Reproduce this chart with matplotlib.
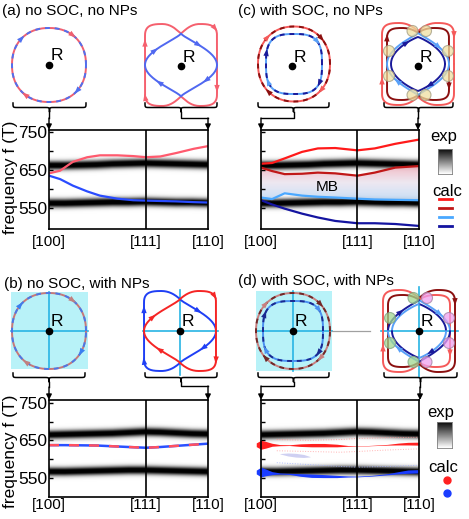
import numpy as np
import matplotlib.pyplot as plt
from matplotlib.patches import Polygon, Rectangle, Circle
from matplotlib.colors import LinearSegmentedColormap

plt.rcParams['font.family'] = ['Liberation Sans', 'DejaVu Sans']

W, H = 469, 519

# ---- values ----
dir_labels = ['[100]', '[111]', '[110]']
dir_pos = [0.0, 0.61, 1.0]

# experimental bands (centre of the dark stripes)
band_x = [0.0, 0.1, 0.2, 0.3, 0.4, 0.5, 0.6, 0.7, 0.8, 0.9, 1.0]
exp_hi_top = [662, 662, 663, 664, 666, 667, 668, 667, 666, 665, 664]
exp_lo_top = [563, 563, 564, 565, 566, 566, 567, 566, 565, 565, 564]
exp_hi_bot = [665, 666, 667, 668, 669, 671, 673, 672, 670, 668, 667]
exp_lo_bot = [566, 566, 567, 568, 569, 570, 570, 569, 568, 567, 566]

# (a) no SOC, no NPs
a_x = [0.0, 0.07, 0.15, 0.24, 0.32, 0.43, 0.53, 0.61, 0.70, 0.80, 0.91, 1.0]
a_red = [641, 648, 671, 683, 688, 688, 686, 683, 685, 694, 705, 712]
a_blue = [635, 626, 609, 594, 583, 575, 571, 570, 569, 568, 566, 565]

# (b) no SOC, with NPs
b_x = [0.0, 0.1, 0.2, 0.3, 0.4, 0.5, 0.61, 0.7, 0.8, 0.9, 1.0]
b_f = [637, 637, 636.5, 636, 634, 632, 630, 632, 635, 638, 641]

# (c) with SOC, no NPs
c_x = [0.0, 0.07, 0.15, 0.26, 0.36, 0.47, 0.61, 0.72, 0.85, 1.0]
c_red = [666, 668, 680, 697, 706, 707, 701, 706, 718, 729]
c_dred = [656, 647, 639, 640, 643, 641, 635, 643, 656, 660]
c_lblue = [578, 574, 589, 583, 580, 578, 575, 573, 572, 571]
c_dblue = [571, 560, 549, 536, 526, 517, 511, 511, 509, 504]

# (d) with SOC, with NPs (weighted bands: centre and half width)
d_x = [-0.03, 0.0, 0.03, 0.07, 0.12, 0.18, 0.25, 0.32, 0.40, 0.48, 0.55, 0.61, 0.70, 0.80, 0.87, 0.93, 1.0]
d_red = [638, 638, 638, 638, 637, 637, 637, 637, 637, 636, 635, 634, 636, 638, 640, 641, 641]
d_red_w = [5, 12, 9, 4, 1.5, 1, 3.5, 4.5, 4.5, 3.5, 1, 0.5, 0.5, 1, 2.5, 3.5, 4]
d_blue = [565, 565, 564, 562, 561, 560, 557, 555, 554, 553, 553, 553, 555, 559, 563, 566, 567]
d_blue_w = [5, 13, 9, 4, 1.5, 1.5, 3.5, 4.5, 4, 3, 1.5, 1, 1, 1.5, 3, 4.5, 4.5]
d_lav_x = [0.12, 0.17, 0.22, 0.27, 0.31]
d_lav = [614, 612, 610, 608, 606]
d_lav_w = [0.5, 4, 5, 4, 0.5]
d_faint_x = [0.1, 0.3, 0.5, 0.61, 0.8, 1.0]
d_faint_r1 = [652, 650, 652, 655, 657, 658]
d_faint_r2 = [622, 620, 618, 620, 624, 627]
d_faint_b = [590, 585, 580, 578, 580, 583]

fig = plt.figure(figsize=(W / 100, H / 100), dpi=100)


def px_axes(l, t, r, b):
    return fig.add_axes([l / W, 1 - b / H, (r - l) / W, (b - t) / H])


def exp_bands(ax, hi, lo, ylim):
    f = np.linspace(ylim[0], ylim[1], 300)[:, None]
    img = (np.exp(-((f - np.array(hi)[None, :]) / 11.0) ** 2) +
           np.exp(-((f - np.array(lo)[None, :]) / 11.0) ** 2))
    ax.imshow(img, extent=[-0.05, 1.05, ylim[0], ylim[1]], origin='lower',
              aspect='auto', cmap='gray_r', vmin=0, vmax=0.85,
              interpolation='bilinear', zorder=0)


def setup(ax, ylim, ylabels, xpad):
    ax.set_xlim(0, 1)
    ax.set_ylim(*ylim)
    ax.set_xticks(dir_pos)
    ax.set_xticklabels(dir_labels, fontsize=11)
    ax.tick_params(axis='x', length=0, pad=xpad)
    ax.set_yticks([550, 600, 650, 700, 750])
    if ylabels:
        ax.set_yticklabels(['550', '', '650', '', '750'])
    else:
        ax.set_yticklabels([])
    ax.tick_params(axis='y', direction='in', length=3, width=1, pad=1, labelsize=12.5)
    ax.axvline(0.61, color='k', lw=1.2, zorder=5)
    for s in ax.spines.values():
        s.set_linewidth(1.2)
        s.set_zorder(6)


ylim_top = (496, 754)
ylim_bot = (498, 758)

axA = px_axes(49, 130, 208, 229)
axC = px_axes(261, 130, 419, 229)
axB = px_axes(49, 400, 208, 497)
axD = px_axes(261, 400, 419, 497)

# (a)
exp_bands(axA, exp_hi_top, exp_lo_top, ylim_top)
axA.plot(a_x, a_red, color='#ff5a6e', lw=1.6)
axA.plot(a_x, a_blue, color='#2a4cff', lw=1.6)
setup(axA, ylim_top, True, 4)

# (c)
exp_bands(axC, exp_hi_top, exp_lo_top, ylim_top)
mb_cmap = LinearSegmentedColormap.from_list('mb', ['#c4dcf6', '#ece6f0', '#f2b4c0'])
grad = np.linspace(0, 1, 100)[:, None]
im = axC.imshow(grad, extent=[0, 1, min(c_lblue), max(c_dred)], origin='lower',
                aspect='auto', cmap=mb_cmap, zorder=1, alpha=0.9)
mb = axC.fill_between(c_x, c_lblue, c_dred, color='none', lw=0)
im.set_clip_path(mb.get_paths()[0], transform=axC.transData)
axC.plot(c_x, c_red, color='#ff1a1a', lw=1.6, zorder=3)
axC.plot(c_x, c_dred, color='#c01818', lw=1.6, zorder=3)
axC.plot(c_x, c_lblue, color='#4aa8ff', lw=1.6, zorder=3)
axC.plot(c_x, c_dblue, color='#1414a0', lw=1.6, zorder=3)
axC.text(0.42, 605, 'MB', fontsize=11, ha='center', va='center', zorder=4)
setup(axC, ylim_top, False, 4)

# (b)
exp_bands(axB, exp_hi_bot, exp_lo_bot, ylim_bot)
axB.plot(b_x, b_f, color='#2a50ff', lw=1.8)
axB.plot(b_x, b_f, color='#ff5060', lw=1.8, ls=(0, (4, 4)))
setup(axB, ylim_bot, True, 1)

# (d)
exp_bands(axD, exp_hi_bot, exp_lo_bot, ylim_bot)
for fy, fc in [(d_faint_r1, '#ff9090'), (d_faint_r2, '#ffa0a0'), (d_faint_b, '#a0b0ff')]:
    axD.plot(d_faint_x, fy, color=fc, lw=0.7, ls=':', alpha=0.8, zorder=2)
axD.fill_between(d_lav_x, np.array(d_lav) - d_lav_w, np.array(d_lav) + d_lav_w,
                 color='#cfd0f2', lw=0, zorder=2)
fr = axD.fill_between(d_x, np.array(d_red) - d_red_w, np.array(d_red) + d_red_w,
                      color='#ff2020', lw=0, zorder=3)
fb = axD.fill_between(d_x, np.array(d_blue) - d_blue_w, np.array(d_blue) + d_blue_w,
                      color='#1a3cff', lw=0, zorder=3)
fr.set_clip_on(False)
fb.set_clip_on(False)
setup(axD, ylim_bot, False, 1)

fig.text(11 / W, 1 - 177 / H, 'frequency f (T)', rotation=90, fontsize=12.5,
         ha='center', va='center')
fig.text(11 / W, 1 - 451 / H, 'frequency f (T)', rotation=90, fontsize=12.5,
         ha='center', va='center')

# ---- overlay for the orbit sketches ----
ov = fig.add_axes([0, 0, 1, 1])
ov.set_xlim(0, W)
ov.set_ylim(H, 0)
ov.axis('off')

M = 60


def squircle(a, b, n):
    t = np.linspace(0, 2 * np.pi, 4 * M, endpoint=False)
    c, s = np.cos(t), np.sin(t)
    return a * np.sign(c) * np.abs(c) ** (2 / n), b * np.sign(s) * np.abs(s) ** (2 / n)


def star(a, b, r):
    t = np.linspace(0, 2 * np.pi, 4 * M, endpoint=False)
    c, s = np.cos(t), np.sin(t)
    return a * np.sign(c) * np.abs(c) ** r, b * s


def bez(p0, p1, p2, p3, n=20):
    t = np.linspace(0, 1, n)[:, None]
    p0, p1, p2, p3 = map(np.array, (p0, p1, p2, p3))
    return (1 - t) ** 3 * p0 + 3 * (1 - t) ** 2 * t * p1 + 3 * (1 - t) * t ** 2 * p2 + t ** 3 * p3


def lobes(a, b, d):
    s1 = np.column_stack([np.full(20, a), np.linspace(0, 0.72 * b, 20)])
    s2 = bez((a, .72 * b), (a, .98 * b), (.78 * a, b), (.52 * a, b))
    s3 = bez((.52 * a, b), (.26 * a, b), (.1 * a, d + .08 * a), (0, d))
    q = np.vstack([s1, s2, s3])
    full = np.vstack([q, q[::-1] * [-1, 1], q * [-1, -1], q[::-1] * [1, -1]])
    return full[:, 0], full[:, 1]


def loop(x, y, cx, cy, color, lw=1.4, ls='-', z=3):
    X = np.append(cx + x, cx + x[0])
    Y = np.append(cy - y, cy - y[0])
    ov.plot(X, Y, color=color, lw=lw, ls=ls, zorder=z, solid_capstyle='round')


def part(x, y, cx, cy, i0, i1, color, lw=1.4, z=3):
    idx = np.arange(i0, i1 + 1) % len(x)
    ov.plot(cx + x[idx], cy - y[idx], color=color, lw=lw, zorder=z, solid_capstyle='round')


def arrow_on(x, y, cx, cy, ang, color, size=7.5, z=4):
    x = np.asarray(x)
    y = np.asarray(y)
    X, Y = cx + x, cy - y
    th = np.degrees(np.arctan2(y, x)) % 360
    i = int(np.argmin(np.abs((th - ang + 180) % 360 - 180)))
    n = len(X)
    p = np.array([X[i], Y[i]])
    dv = np.array([X[i - 2] - X[(i + 2) % n], Y[i - 2] - Y[(i + 2) % n]])
    u = dv / np.hypot(*dv)
    perp = np.array([-u[1], u[0]])
    tip = p + u * size * 0.55
    base = p - u * size * 0.45
    ov.add_patch(Polygon([tip, base + perp * size * 0.36, base - perp * size * 0.36],
                         closed=True, fc=color, ec='none', zorder=z))


def r_mark(cx, cy):
    ov.plot(cx, cy, 'o', color='k', ms=4.5, zorder=7)
    ov.text(cx + 8, cy - 9, 'R', fontsize=12.5, ha='center', va='center', zorder=7)


def brace(x0, x1, yt, h=9):
    xm = (x0 + x1) / 2
    ym = yt + h / 2
    pts = np.vstack([
        bez((x0, yt), (x0, ym), (x0, ym), (x0 + h / 2, ym), 8),
        [[xm - h / 2, ym]],
        bez((xm - h / 2, ym), (xm, ym), (xm, ym), (xm, yt + h), 8),
        bez((xm, yt + h), (xm, ym), (xm, ym), (xm + h / 2, ym), 8),
        [[x1 - h / 2, ym]],
        bez((x1 - h / 2, ym), (x1, ym), (x1, ym), (x1, yt), 8),
    ])
    ov.plot(pts[:, 0], pts[:, 1], color='k', lw=1.1, zorder=3)


def connector(path, ytip):
    path = np.array(path, dtype=float)
    ov.plot(path[:, 0], path[:, 1], color='k', lw=1.0, zorder=3)
    ov.annotate('', xy=(path[-1, 0], ytip), xytext=(path[-1, 0], path[-1, 1]),
                arrowprops=dict(arrowstyle='-|>', color='k', lw=1.0,
                                mutation_scale=8, shrinkA=0, shrinkB=0), zorder=3)


def cyan_cross(x0, x1, y0, y1, cx, cy):
    ov.plot([x0, x1], [cy, cy], color='#28b4e4', lw=1.2, zorder=2)
    ov.plot([cx, cx], [y0, y1], color='#28b4e4', lw=1.2, zorder=2)


def blobs(pos, cx, cy, fc, ec):
    for (dx, dy) in pos:
        ov.add_patch(Circle((cx + dx, cy - dy), 5.5, fc=fc, ec=ec, lw=0.8, alpha=0.75, zorder=5))


dash = (0, (2.5, 2.5))

# titles
ov.text(2, 11, '(a) no SOC, no NPs', fontsize=11, va='center')
ov.text(238, 11, '(c) with SOC, no NPs', fontsize=11, va='center')
ov.text(4, 284, '(b) no SOC, with NPs', fontsize=11, va='center')
ov.text(238, 281, '(d) with SOC, with NPs', fontsize=11, va='center')

# (a) left
x, y = squircle(37, 37, 2.2)
loop(x, y, 49, 65, '#f06070')
loop(x, y, 49, 65, '#5070f0', ls=dash)
for ang, col in [(52, '#f06070'), (232, '#f06070'), (137, '#5070f0'), (318, '#5070f0')]:
    arrow_on(x, y, 49, 65, ang, col)
r_mark(49, 65)

# (a) right
ox, oy = lobes(36, 41, 31.5)
sx, sy = star(36, 31.5, 2.7)
loop(ox, oy, 181, 65, '#f5606e')
loop(sx, sy, 181, 65, '#5068f0')
for ang in [47, 327, 149, 222]:
    arrow_on(ox, oy, 181, 65, ang, '#f5606e')
for ang in [151, 50, 329, 219]:
    arrow_on(sx, sy, 181, 65, ang, '#5068f0')
r_mark(181, 66)

# (c) left
x, y = squircle(36, 37.5, 2.15)
x2, y2 = squircle(28, 30, 3.0)
loop(x, y, 294, 64, '#f55a5a')
loop(x, y, 294, 64, '#8b1010', ls=dash)
loop(x2, y2, 294, 64, '#58a0f8')
loop(x2, y2, 294, 64, '#1a1a9a', ls=dash)
for ang, col in [(135, '#f55a5a'), (43, '#8b1010'), (227, '#8b1010'), (316, '#f55a5a')]:
    arrow_on(x, y, 294, 64, ang, col)
for ang, col in [(157, '#1a1a9a'), (45, '#58a0f8'), (323, '#1a1a9a'), (216, '#58a0f8')]:
    arrow_on(x2, y2, 294, 64, ang, col)
r_mark(292, 66)

# (c) right
o1 = lobes(36, 41, 33)
o2 = lobes(31, 36, 31)
s1 = star(31, 31, 2.2)
s2 = star(27, 27, 1.8)
for (px, py), col in [(o1, '#f55a5a'), (o2, '#8b1010'), (s1, '#58a0f8'), (s2, '#1a1a9a')]:
    loop(px, py, 418, 64, col)
arrow_on(*o1, 418, 64, 40, '#f55a5a')
arrow_on(*o1, 418, 64, 205, '#f55a5a')
arrow_on(*o2, 418, 64, 325, '#8b1010')
arrow_on(*o2, 418, 64, 140, '#8b1010')
arrow_on(*s1, 418, 64, 40, '#58a0f8')
arrow_on(*s1, 418, 64, 220, '#58a0f8')
arrow_on(*s2, 418, 64, 120, '#1a1a9a')
arrow_on(*s2, 418, 64, 300, '#1a1a9a')
blob_pos = [(-5.5, 33), (8, 33), (-29, 13), (30, 13), (-29, -12), (30, -12), (-5.5, -31), (7.5, -31)]
blobs(blob_pos, 418, 64, '#f0e0a0', '#a09a80')
r_mark(418, 66)

# (b) left
ov.add_patch(Rectangle((11, 292), 77, 77, fc='#b8f2f8', ec='none', zorder=1))
cyan_cross(11, 88, 292, 369, 49, 331)
x, y = squircle(37, 38, 2.2)
loop(x, y, 49, 331, '#c87878')
loop(x, y, 49, 331, '#4a78e8', ls=dash)
for ang, col in [(139, '#3a7ff0'), (53, '#c08080'), (234, '#c08080'), (327, '#3a7ff0')]:
    arrow_on(x, y, 49, 331, ang, col)
r_mark(49, 331)

# (b) right
cyan_cross(143, 218, 290, 375, 180, 331)
ox, oy = lobes(36, 40, 32)
sx, sy = star(36, 32, 2.7)
bx_ = np.concatenate([sx[3 * M:], sx[:M], ox[M:3 * M]])
by_ = np.concatenate([sy[3 * M:], sy[:M], oy[M:3 * M]])
rx_ = np.concatenate([ox[3 * M:], ox[:M], sx[M:3 * M]])
ry_ = np.concatenate([oy[3 * M:], oy[:M], sy[M:3 * M]])
loop(bx_, by_, 180, 331, '#1f3ff5')
loop(rx_, ry_, 180, 331, '#f52525')
for ang in [149, 48, 325, 220]:
    arrow_on(bx_, by_, 180, 331, ang, '#1f3ff5')
for ang in [153, 45, 322, 223]:
    arrow_on(rx_, ry_, 180, 331, ang, '#f52525')
r_mark(180, 331)

# (d) left
ov.add_patch(Rectangle((256, 291), 76, 80, fc='#b8f2f8', ec='none', zorder=1))
cyan_cross(256, 332, 291, 371, 293, 331)
ov.plot([332, 370], [331, 331], color='#a0a0a0', lw=0.9, zorder=2)
x, y = squircle(37, 38, 2.15)
x2, y2 = squircle(30, 30, 3.0)
loop(x, y, 293, 331, '#c88080')
loop(x, y, 293, 331, '#702828', ls=dash)
loop(x2, y2, 293, 331, '#4a90f0')
loop(x2, y2, 293, 331, '#1a2a90', ls=dash)
for ang, col in [(135, '#c88080'), (45, '#702828'), (225, '#702828'), (315, '#c88080')]:
    arrow_on(x, y, 293, 331, ang, col)
for ang, col in [(150, '#1a2a90'), (40, '#4a90f0'), (215, '#4a90f0'), (320, '#1a2a90')]:
    arrow_on(x2, y2, 293, 331, ang, col)
r_mark(293, 331)

# (d) right
cyan_cross(381, 458, 287, 377, 419, 331)
quads = [(o1, ['#8b1010', '#f55a5a', '#f55a5a', '#8b1010']),
         (o2, ['#f55a5a', '#8b1010', '#8b1010', '#f55a5a']),
         (s1, ['#58a0f8', '#1a1a9a', '#58a0f8', '#1a1a9a']),
         (s2, ['#1a1a9a', '#58a0f8', '#1a1a9a', '#58a0f8'])]
for (px, py), cols in quads:
    for k, col in enumerate(cols):
        part(px, py, 419, 331, k * M, (k + 1) * M, col)
arrow_on(*o1, 419, 331, 40, '#8b1010')
arrow_on(*o1, 419, 331, 205, '#f55a5a')
arrow_on(*o2, 419, 331, 325, '#f55a5a')
arrow_on(*s1, 419, 331, 135, '#1a1a9a')
arrow_on(*s1, 419, 331, 40, '#58a0f8')
arrow_on(*s1, 419, 331, 220, '#58a0f8')
arrow_on(*s2, 419, 331, 300, '#1a1a9a')
blobs([p for p in blob_pos if p[0] < 0], 419, 331, '#a0d890', '#80a080')
blobs([p for p in blob_pos if p[0] > 0], 419, 331, '#f0a0f0', '#a080a0')
r_mark(419, 331)

# braces and connectors
brace(13, 86, 103)
brace(145, 217, 103)
brace(258, 329, 103)
brace(384, 453, 103)
brace(13, 85, 373)
brace(145, 217, 373)
brace(258, 329, 373)
brace(384, 457, 373)
connector([(49, 112), (49, 118)], 130)
connector([(181, 112), (181, 118), (208, 118)], 130)
connector([(294, 112), (294, 118), (261, 118)], 130)
connector([(418, 112), (418, 118)], 130)
connector([(49, 382), (49, 387)], 400)
connector([(181, 382), (181, 386), (208, 386)], 400)
connector([(294, 382), (294, 386), (261, 386)], 400)
connector([(420, 382), (420, 387)], 400)

# legends
ov.text(444, 137, 'exp', fontsize=12, ha='center', va='center')
ov.text(447, 191, 'calc', fontsize=12, ha='center', va='center')
for yy, col in zip([199, 208, 217, 226], ['#ff1a1a', '#c01818', '#4aa8ff', '#1414a0']):
    ov.plot([439, 452], [yy, yy], color=col, lw=2)
ov.text(441, 412, 'exp', fontsize=12, ha='center', va='center')
ov.text(443, 468, 'calc', fontsize=12, ha='center', va='center')
ov.plot(447, 480, 'o', color='#ff2020', ms=5)
ov.plot(447, 493, 'o', color='#1a3cff', ms=5)

for (l, t, r, b) in [(438, 149, 452, 174), (437, 422, 452, 448)]:
    cb = px_axes(l, t, r, b)
    cb.imshow(np.linspace(1, 0, 50)[:, None], aspect='auto', cmap='gray_r',
              vmin=0, vmax=1.05, interpolation='bilinear')
    cb.set_xticks([])
    cb.set_yticks([])
    for s in cb.spines.values():
        s.set_linewidth(0.6)
        s.set_color('#808080')

fig.savefig('out.png', dpi=100)
